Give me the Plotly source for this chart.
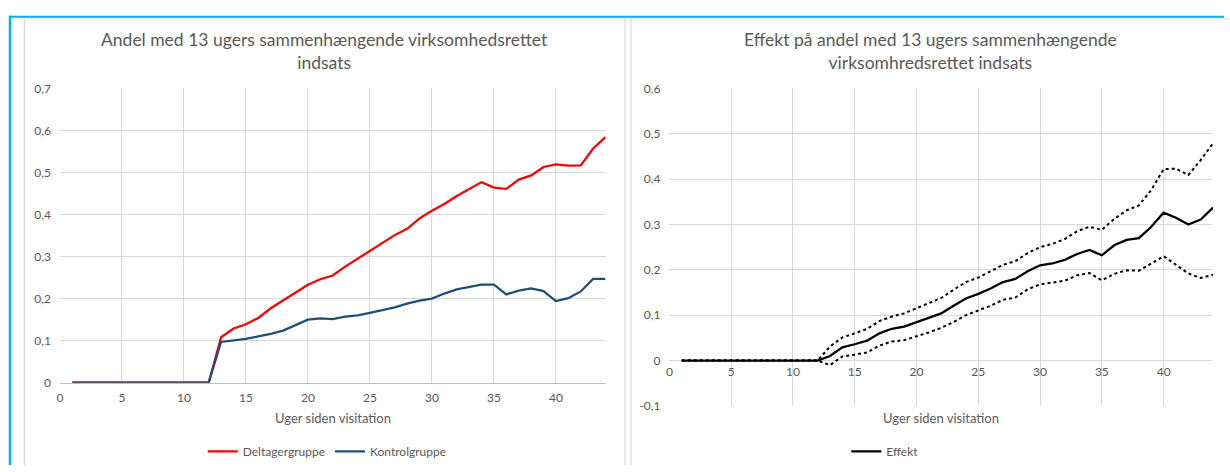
import plotly.graph_objects as go

# ---------------- data ----------------
weeks = list(range(1, 45))

deltager = [0]*12 + [0.108, 0.129, 0.139, 0.154, 0.177, 0.195, 0.213, 0.233, 0.246, 0.255,
                     0.276, 0.295, 0.312, 0.331, 0.351, 0.366, 0.391, 0.409, 0.425, 0.444,
                     0.461, 0.477, 0.464, 0.461, 0.483, 0.493, 0.513, 0.519, 0.516, 0.517,
                     0.557, 0.584]
kontrol = [0]*12 + [0.097, 0.100, 0.104, 0.110, 0.116, 0.124, 0.137, 0.150, 0.153, 0.151,
                    0.157, 0.160, 0.166, 0.172, 0.179, 0.188, 0.195, 0.200, 0.212, 0.222,
                    0.227, 0.233, 0.233, 0.210, 0.219, 0.224, 0.218, 0.194, 0.201, 0.217,
                    0.247, 0.247]

effekt = [0]*12 + [0.010, 0.029, 0.036, 0.044, 0.060, 0.070, 0.075, 0.085, 0.094, 0.104,
                   0.121, 0.137, 0.147, 0.159, 0.173, 0.180, 0.197, 0.210, 0.214, 0.222,
                   0.235, 0.244, 0.232, 0.254, 0.266, 0.270, 0.295, 0.326, 0.315, 0.300,
                   0.311, 0.337]
effekt_upper = [0]*12 + [0.031, 0.051, 0.060, 0.070, 0.087, 0.097, 0.104, 0.115, 0.126, 0.138,
                         0.156, 0.173, 0.183, 0.197, 0.211, 0.219, 0.237, 0.250, 0.257, 0.268,
                         0.285, 0.295, 0.288, 0.312, 0.331, 0.342, 0.376, 0.422, 0.423, 0.409,
                         0.442, 0.479]
effekt_lower = [0]*12 + [-0.010, 0.009, 0.013, 0.018, 0.033, 0.042, 0.045, 0.053, 0.062, 0.072,
                         0.085, 0.100, 0.111, 0.121, 0.134, 0.139, 0.157, 0.168, 0.172, 0.176,
                         0.188, 0.193, 0.177, 0.191, 0.199, 0.198, 0.214, 0.230, 0.211, 0.192,
                         0.182, 0.189]

x_ticks = [0, 5, 10, 15, 20, 25, 30, 35, 40]
left_y_ticks = [0, 0.1, 0.2, 0.3, 0.4, 0.5, 0.6, 0.7]
left_y_labels = ["0", "0,1", "0,2", "0,3", "0,4", "0,5", "0,6", "0,7"]
right_y_ticks = [-0.1, 0, 0.1, 0.2, 0.3, 0.4, 0.5, 0.6]
right_y_labels = ["-0,1", "0", "0,1", "0,2", "0,3", "0,4", "0,5", "0,6"]

title_left = "Andel med 13 ugers sammenhængende virksomhedsrettet<br>indsats"
title_right = "Effekt på andel med 13 ugers sammenhængende<br>virksomhredsrettet indsats"
x_title = "Uger siden visitation"

# ---------------- layout helpers ----------------
W, H = 1230, 472
FONT = "Lato, 'Open Sans', sans-serif"
TXT = "#595959"
GRID = "#d9d9d9"


def px(x):
    return x / W


def py(y):
    return 1 - y / H


left_dom_x = [px(57), px(604)]
left_dom_y = [py(387), py(83)]
right_dom_x = [px(668), px(1213)]
right_dom_y = [py(411), py(83)]
right_range = [-0.1, 0.6]
zero_pos = right_dom_y[0] + (0 - right_range[0]) / (right_range[1] - right_range[0]) * (right_dom_y[1] - right_dom_y[0])

fig = go.Figure()

fig.add_trace(go.Scatter(x=weeks, y=deltager, mode="lines", name="Deltagergruppe",
                         line=dict(color="#ff0000", width=2.25), xaxis="x", yaxis="y", legend="legend"))
fig.add_trace(go.Scatter(x=weeks, y=kontrol, mode="lines", name="Kontrolgruppe",
                         line=dict(color="#1f4e79", width=2.25), xaxis="x", yaxis="y", legend="legend"))

fig.add_trace(go.Scatter(x=weeks, y=effekt_upper, mode="lines", showlegend=False,
                         line=dict(color="#000000", width=2, dash="dot"), xaxis="x2", yaxis="y2"))
fig.add_trace(go.Scatter(x=weeks, y=effekt_lower, mode="lines", showlegend=False,
                         line=dict(color="#000000", width=2, dash="dot"), xaxis="x2", yaxis="y2"))
fig.add_trace(go.Scatter(x=weeks, y=effekt, mode="lines", name="Effekt",
                         line=dict(color="#000000", width=2.25), xaxis="x2", yaxis="y2", legend="legend2"))

tickfont = dict(family=FONT, size=12, color=TXT)

fig.update_layout(
    width=W, height=H,
    margin=dict(l=0, r=0, t=0, b=0),
    paper_bgcolor="white", plot_bgcolor="white",
    font=dict(family=FONT, color=TXT),
    xaxis=dict(domain=left_dom_x, anchor="y", range=[0, 44], tickvals=x_ticks,
               showgrid=True, gridcolor=GRID, gridwidth=1, zeroline=False,
               showline=True, linecolor="#bfbfbf", linewidth=1, ticks="",
               tickfont=tickfont, ticklabelstandoff=4),
    yaxis=dict(domain=left_dom_y, anchor="x", range=[0, 0.7], tickvals=left_y_ticks,
               ticktext=left_y_labels, showgrid=True, gridcolor=GRID, gridwidth=1,
               zeroline=False, ticks="", tickfont=tickfont, ticklabelstandoff=8),
    xaxis2=dict(domain=right_dom_x, anchor="free", position=zero_pos, range=[0, 44],
                tickvals=x_ticks, showgrid=True, gridcolor=GRID, gridwidth=1,
                zeroline=False, showline=False, ticks="", tickfont=tickfont,
                ticklabelstandoff=2),
    yaxis2=dict(domain=right_dom_y, anchor="x2", range=right_range, tickvals=right_y_ticks,
                ticktext=right_y_labels, showgrid=True, gridcolor=GRID, gridwidth=1,
                zeroline=True, zerolinecolor=GRID, zerolinewidth=1, ticks="",
                tickfont=tickfont, ticklabelstandoff=8),
    legend=dict(orientation="h", x=px(325), xanchor="center", y=py(458), yanchor="middle",
                font=dict(family=FONT, size=12, color=TXT), bgcolor="rgba(0,0,0,0)",
                itemwidth=30, tracegroupgap=0),
    legend2=dict(orientation="h", x=px(884), xanchor="center", y=py(458), yanchor="middle",
                 font=dict(family=FONT, size=12, color=TXT), bgcolor="rgba(0,0,0,0)",
                 itemwidth=30),
    showlegend=True,
)

annotations = [
    dict(text=title_left, x=px(322), y=py(44), xref="paper", yref="paper",
         showarrow=False, xanchor="center", yanchor="middle",
         font=dict(family=FONT, size=17.5, color=TXT)),
    dict(text=title_right, x=px(930), y=py(44), xref="paper", yref="paper",
         showarrow=False, xanchor="center", yanchor="middle",
         font=dict(family=FONT, size=17.5, color=TXT)),
    dict(text=x_title, x=sum(left_dom_x) / 2, y=py(423), xref="paper", yref="paper",
         showarrow=False, xanchor="center", yanchor="middle",
         font=dict(family=FONT, size=13, color=TXT)),
    dict(text=x_title, x=sum(right_dom_x) / 2, y=py(423), xref="paper", yref="paper",
         showarrow=False, xanchor="center", yanchor="middle",
         font=dict(family=FONT, size=13, color=TXT)),
]
fig.update_layout(annotations=annotations)

BLUE = "#00b0f0"
shapes = [
    dict(type="line", xref="paper", yref="paper", x0=px(21.5), x1=px(21.5), y0=py(10), y1=0,
         line=dict(color="#d9d9d9", width=1.5)),
    dict(type="line", xref="paper", yref="paper", x0=px(623.5), x1=px(623.5), y0=py(10), y1=0,
         line=dict(color="#e3e3e3", width=1.5)),
    dict(type="line", xref="paper", yref="paper", x0=px(629.5), x1=px(629.5), y0=py(10), y1=0,
         line=dict(color="#e3e3e3", width=1.5)),
    dict(type="line", xref="paper", yref="paper", x0=px(21), x1=1, y0=py(11), y1=py(11),
         line=dict(color="#e6e6e6", width=1.5)),
    dict(type="line", xref="paper", yref="paper", x0=px(7), x1=px(7), y0=py(8), y1=0,
         line=dict(color=BLUE, width=2.5)),
    dict(type="line", xref="paper", yref="paper", x0=px(6), x1=px(1224), y0=py(9), y1=py(9),
         line=dict(color=BLUE, width=2)),
]
fig.update_layout(shapes=shapes)

fig.write_html(
    "out.html",
    config={"displayModeBar": False},
    post_script="document.documentElement.style.margin='0';document.body.style.margin='0';"
                "document.documentElement.style.overflow='hidden';document.body.style.overflow='hidden';",
)
